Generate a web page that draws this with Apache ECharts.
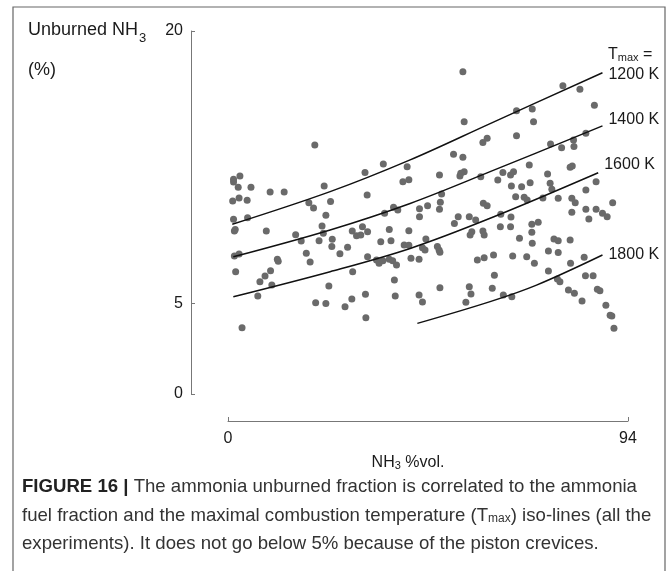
<!DOCTYPE html>
<html><head><meta charset="utf-8">
<script src="https://cdn.jsdelivr.net/npm/echarts@6/dist/echarts.min.js"></script>
<style>html,body{margin:0;padding:0;background:#fff;}#c{width:672px;height:571px;}</style>
</head><body><div id="c"></div>
<script>
// ---- data ----
const xTickValues = [0, 94];
const yTickValues = [0, 5, 20];
const nh3Vol = [
20.4,2.8,1.3,1.3,2.4,5.4,9.9,13.2,22.6,1.1,2.6,4.5,19.0,24.1,20.1,23.0,1.3,4.6,1.5,1.7,9.0,22.1,22.4,15.9,17.2,21.4,24.5,24.4,26.3,1.5,2.6,18.4,19.3,11.6,11.8,1.8,10.0,8.7,7.5,10.3,23.7,7.0,20.6,23.0,3.3,
55.5,60.9,59.9,36.5,32.2,42.1,53.0,55.2,41.1,42.5,49.7,54.5,55.5,54.7,59.4,32.7,50.2,49.9,49.7,60.0,60.9,36.8,38.9,39.9,45.0,46.9,45.0,53.2,54.1,56.7,58.2,56.9,57.3,59.9,60.2,29.2,31.6,30.2,31.2,32.8,37.9,42.5,28.1,35.9,38.3,41.4,42.5,46.5,45.7,46.3,49.2,49.6,49.8,32.8,34.9,35.5,36.4,37.9,38.7,39.6,43.0,44.9,58.6,60.2,29.3,39.1,39.3,32.3,29.1,27.5,44.9,45.7,49.8,56.7,57.1,55.9,32.4,
78.7,82.7,86.1,67.8,71.5,71.8,67.8,84.1,81.2,75.8,78.4,81.3,64.6,63.4,66.4,67.1,66.6,69.0,71.0,70.8,75.1,75.7,76.1,80.4,80.9,86.5,84.1,67.6,69.6,70.3,74.0,77.6,80.8,81.6,90.4,80.8,84.1,86.5,88.0,89.1,84.8,64.1,66.5,64.0,66.4,71.4,72.9,68.5,71.4,71.5,76.6,77.6,80.4,62.4,66.9,70.2,72.0,75.3,77.6,83.7,80.5,62.6,75.3,84.0,85.8,77.4,78.0,62.1,64.7,66.7,80.0,81.4,83.2,86.8,87.4,88.8,89.8,90.2,90.7,
55.2];
const unburnedNH3 = [
13.72,12.01,11.83,11.68,11.39,11.39,11.13,11.13,11.46,10.63,10.80,10.67,10.54,10.60,10.25,9.85,9.63,9.71,8.98,9.07,8.98,9.26,8.85,8.78,8.43,8.45,8.52,8.12,7.73,7.60,7.71,7.75,7.27,7.42,7.31,6.74,6.79,6.50,6.19,6.01,5.95,5.40,5.03,4.98,3.65,
15.00,14.09,13.85,12.67,12.21,12.52,13.21,13.04,11.70,11.81,12.07,12.01,12.25,12.16,11.97,10.96,11.02,10.56,10.18,10.51,10.37,9.96,10.29,10.14,10.21,10.37,9.77,9.40,9.77,9.77,9.59,8.76,8.94,8.98,8.76,8.98,9.22,8.72,8.76,8.94,9.07,9.00,8.08,8.39,8.45,8.21,8.19,8.54,8.06,7.93,8.12,7.93,7.81,7.56,7.38,7.20,7.34,7.42,7.34,7.11,7.48,7.42,7.38,7.51,6.74,6.28,5.40,5.49,5.23,4.81,5.45,5.07,5.86,5.91,5.51,5.05,4.20,
16.99,16.79,15.91,15.61,15.70,15.00,14.23,14.36,13.99,13.77,13.57,13.63,12.21,11.79,12.07,12.25,11.46,11.42,11.64,12.62,12.12,11.61,11.28,12.49,12.56,11.70,11.24,10.87,10.84,10.69,10.80,10.78,10.78,10.54,10.54,10.01,10.18,10.18,9.96,9.77,9.64,9.90,9.75,9.22,9.22,9.35,9.46,8.58,8.91,8.30,8.54,8.45,8.48,7.66,7.60,7.56,7.20,7.88,7.79,7.53,7.20,6.54,6.78,6.52,6.52,6.34,6.19,5.82,5.45,5.36,5.73,5.55,5.12,5.77,5.69,4.89,4.34,4.30,3.62,
17.76];
const iso1200X = [1, 24, 42.8, 61.6, 88];
const iso1200Y = [9.35, 11.15, 12.9, 14.9, 17.7];
const iso1400X = [1.25, 24, 42.8, 61.6, 88];
const iso1400Y = [7.56, 9.04, 10.5, 12.25, 14.77];
const iso1600X = [1.25, 24, 42.8, 61.6, 87];
const iso1600Y = [5.36, 6.74, 8.02, 9.68, 12.19];
const iso1800X = [44.5, 61.6, 72.5, 88];
const iso1800Y = [3.89, 5.09, 6.0, 7.66];
const isoNames = ['1200 K', '1400 K', '1600 K', '1800 K'];

// ---- chart ----
const FONT = '"Liberation Sans", Arial, Helvetica, sans-serif';
const TXT = '#1a1a1a';
const AX = '#777';
const chart = echarts.init(document.getElementById('c'), null, {renderer: 'canvas'});
const zip = (xs, ys) => xs.map((x, i) => [x, ys[i]]);
const isoSets = [[iso1200X, iso1200Y], [iso1400X, iso1400Y], [iso1600X, iso1600Y], [iso1800X, iso1800Y]];
const labelOffsets = [[4, 2], [4, -6], [4, -8], [4, 0]];

const series = [{
  type: 'scatter',
  data: zip(nh3Vol, unburnedNH3),
  symbolSize: 7,
  itemStyle: {color: '#6a6a6a', opacity: 1},
  z: 2
}];
isoSets.forEach((s, k) => {
  series.push({
    type: 'line',
    data: zip(s[0], s[1]),
    smooth: 0.35,
    showSymbol: false,
    lineStyle: {color: '#111', width: 1.5},
    z: 3,
    endLabel: {
      show: true,
      formatter: isoNames[k],
      fontFamily: FONT, fontSize: 16, color: TXT,
      distance: 2,
      offset: labelOffsets[k]
    }
  });
});

chart.setOption({
  animation: false,
  backgroundColor: '#fff',
  grid: {left: 228, right: 44, top: 31, bottom: 177, containLabel: false},
  xAxis: {
    type: 'value', min: 0, max: 94, offset: 27,
    splitLine: {show: false},
    axisLine: {show: true, onZero: false, lineStyle: {color: AX, width: 1}},
    axisTick: {show: true, inside: true, length: 4, customValues: xTickValues, lineStyle: {color: AX}},
    axisLabel: {customValues: xTickValues, margin: 10, fontFamily: FONT, fontSize: 16, color: TXT}
  },
  yAxis: {
    type: 'value', min: 0, max: 20, offset: 37,
    splitLine: {show: false},
    axisLine: {show: true, onZero: false, lineStyle: {color: AX, width: 1}},
    axisTick: {show: true, inside: true, length: 4, customValues: yTickValues, lineStyle: {color: AX}},
    axisLabel: {customValues: yTickValues, margin: 8, fontFamily: FONT, fontSize: 16, color: TXT}
  },
  series: series,
  graphic: [
    {type: 'rect', silent: true, shape: {x: 13, y: 7, width: 652, height: 620},
     style: {fill: 'none', stroke: '#666', lineWidth: 1.2}},
    {type: 'text', x: 28, y: 30, style: {
      text: '{a|Unburned NH}{s|3}', verticalAlign: 'middle', align: 'left',
      rich: {a: {fontFamily: FONT, fontSize: 18, fill: TXT}, s: {fontFamily: FONT, fontSize: 13, fill: TXT, padding: [16, 0, 0, 1]}}
    }},
    {type: 'text', x: 28, y: 70, style: {text: '(%)', font: '18px ' + FONT, fill: TXT, verticalAlign: 'middle', align: 'left'}},
    {type: 'text', x: 608, y: 55, style: {
      text: '{a|T}{s|max}{a| =}', verticalAlign: 'middle', align: 'left',
      rich: {a: {fontFamily: FONT, fontSize: 16, fill: TXT}, s: {fontFamily: FONT, fontSize: 11, fill: TXT, padding: [5, 0, 0, 0]}}
    }},
    {type: 'text', x: 408, y: 463, style: {
      text: '{a|NH}{s|3}{a| %vol.}', verticalAlign: 'middle', align: 'center',
      rich: {a: {fontFamily: FONT, fontSize: 16, fill: TXT}, s: {fontFamily: FONT, fontSize: 11, fill: TXT, padding: [5, 0, 0, 0]}}
    }},
    {type: 'text', x: 22, y: 487, style: {
      text: '{b|FIGURE 16 |}{a| The ammonia unburned fraction is correlated to the ammonia}', verticalAlign: 'middle', align: 'left',
      rich: {b: {fontFamily: FONT, fontSize: 18.6, fontWeight: 'bold', fill: '#222'}, a: {fontFamily: FONT, fontSize: 18.6, fill: '#333'}}
    }},
    {type: 'text', x: 22, y: 516, style: {
      text: '{a|fuel fraction and the maximal combustion temperature (T}{s|max}{a|) iso-lines (all the}', verticalAlign: 'middle', align: 'left',
      rich: {a: {fontFamily: FONT, fontSize: 18.6, fill: '#333'}, s: {fontFamily: FONT, fontSize: 12, fill: '#333', padding: [6, 0, 0, 0]}}
    }},
    {type: 'text', x: 22, y: 544, style: {
      text: 'experiments). It does not go below 5% because of the piston crevices.', verticalAlign: 'middle', align: 'left',
      font: '18.6px ' + FONT, fill: '#333'
    }}
  ]
});
</script></body></html>
